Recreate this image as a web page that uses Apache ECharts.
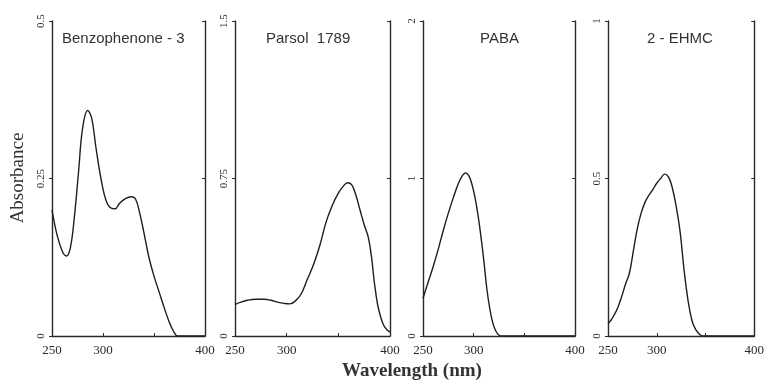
<!DOCTYPE html>
<html>
<head>
<meta charset="utf-8">
<script src="https://cdn.jsdelivr.net/npm/echarts@6/dist/echarts.min.js"></script>
<style>
  html, body { margin: 0; padding: 0; background: #fff; }
  #chart { width: 767px; height: 385px; }
</style>
</head>
<body>
<div id="chart"></div>
<script>
// panel names and y-axis maxima
const panelNames = ['Benzophenone - 3', 'Parsol  1789', 'PABA', '2 - EHMC']
const yMax = [0.5, 1.5, 2, 1]

// wavelengths (nm) and absorbance
const bp3Wl = [250, 255, 260, 264, 268, 272, 276, 280, 285, 289, 293, 298, 303, 308, 312, 316, 322, 328, 332, 336, 340, 345, 350, 355, 360, 365, 370, 373, 400]
const bp3Abs = [0.2, 0.16, 0.135, 0.127, 0.14, 0.19, 0.26, 0.33, 0.358, 0.345, 0.3, 0.25, 0.215, 0.203, 0.202, 0.21, 0.218, 0.221, 0.217, 0.195, 0.165, 0.125, 0.095, 0.07, 0.045, 0.022, 0.005, 0, 0]

const parsolWl = [250, 255, 262, 270, 278, 285, 292, 298, 303, 308, 314, 320, 326, 332, 338, 344, 350, 355, 359, 363, 367, 371, 375, 379, 382, 385, 388, 391, 394, 397, 400]
const parsolAbs = [0.15, 0.16, 0.17, 0.175, 0.175, 0.17, 0.16, 0.155, 0.153, 0.165, 0.2, 0.27, 0.34, 0.43, 0.54, 0.62, 0.68, 0.715, 0.73, 0.72, 0.67, 0.6, 0.53, 0.47, 0.38, 0.25, 0.15, 0.09, 0.05, 0.03, 0.02]

const pabaWl = [250, 253, 256, 260, 265, 270, 275, 280, 285, 289, 292, 295, 298, 301, 304, 307, 310, 313, 316, 319, 322, 325, 328, 400]
const pabaAbs = [0.24, 0.3, 0.36, 0.44, 0.55, 0.67, 0.78, 0.88, 0.97, 1.02, 1.035, 1.02, 0.97, 0.89, 0.78, 0.64, 0.48, 0.3, 0.17, 0.08, 0.03, 0.005, 0, 0]

const ehmcWl = [250, 253, 256, 260, 264, 268, 272, 276, 280, 284, 288, 292, 296, 300, 304, 308, 312, 316, 320, 324, 328, 332, 336, 340, 344, 347, 400]
const ehmcAbs = [0.04, 0.05, 0.065, 0.09, 0.125, 0.165, 0.2, 0.27, 0.34, 0.39, 0.425, 0.447, 0.465, 0.485, 0.5, 0.514, 0.505, 0.47, 0.41, 0.33, 0.21, 0.115, 0.05, 0.02, 0.005, 0, 0]

// x tick labels that are printed
const xTickLabels = [250, 300, 400]

const curves = [
  [bp3Wl, bp3Abs],
  [parsolWl, parsolAbs],
  [pabaWl, pabaAbs],
  [ehmcWl, ehmcAbs],
]

// panel boxes in px: left, width
const boxes = [[52, 153], [235, 155], [423, 152], [608, 152]]
const titleLeft = [62, 266, 480, 647]

const serif = 'Liberation Serif, Times New Roman, serif'
const sans = 'Liberation Sans, Arial, sans-serif'
const ink = '#2a2a2a'

const chart = echarts.init(document.getElementById('chart'))

const grids = boxes.map(([left, width]) => ({ left, width, top: 21, height: 315 }))

const xAxes = boxes.map((b, i) => ({
  type: 'value',
  gridIndex: i,
  min: 250,
  max: 400,
  interval: 50,
  splitLine: { show: false },
  axisLine: { lineStyle: { color: ink, width: 1.4 } },
  axisTick: { inside: true, length: 3, lineStyle: { color: ink } },
  axisLabel: {
    color: ink,
    fontFamily: serif,
    fontSize: 13,
    margin: 8,
    formatter: (v) => (xTickLabels.includes(v) ? String(v) : ''),
  },
}))

const yAxes = []
boxes.forEach((b, i) => {
  yAxes.push({
    type: 'value',
    gridIndex: i,
    min: 0,
    max: yMax[i],
    interval: yMax[i] / 2,
    position: 'left',
    splitLine: { show: false },
    axisLine: { show: true, lineStyle: { color: ink, width: 1.4 } },
    axisTick: { length: 3, lineStyle: { color: ink } },
    axisLabel: {
      color: ink,
      fontFamily: serif,
      fontSize: 11,
      rotate: 90,
      margin: 5,
    },
  })
  yAxes.push({
    type: 'value',
    gridIndex: i,
    min: 0,
    max: yMax[i],
    interval: yMax[i] / 2,
    position: 'right',
    splitLine: { show: false },
    axisLine: { show: true, lineStyle: { color: ink, width: 1.4 } },
    axisTick: { inside: true, length: 3, lineStyle: { color: ink } },
    axisLabel: { show: false },
  })
})

const series = curves.map(([wl, abs], i) => ({
  type: 'line',
  xAxisIndex: i,
  yAxisIndex: i * 2,
  data: wl.map((w, k) => [w, abs[k]]),
  smooth: 0.4,
  showSymbol: false,
  symbol: 'none',
  lineStyle: { color: '#1e1e1e', width: 1.4 },
  silent: true,
}))

const titles = panelNames.map((name, i) => ({
  text: name,
  left: titleLeft[i],
  top: 31,
  padding: 0,
  textStyle: { fontFamily: sans, fontSize: 15, fontWeight: 'normal', color: '#333' },
}))
titles.push({
  text: 'Wavelength (nm)',
  left: 342,
  top: 362,
  padding: 0,
  textStyle: { fontFamily: serif, fontSize: 19, fontWeight: 'bold', color: '#333' },
})

const option = {
  animation: false,
  backgroundColor: '#fff',
  title: titles,
  grid: grids,
  xAxis: xAxes,
  yAxis: yAxes,
  series,
  graphic: [
    {
      type: 'text',
      x: 18,
      y: 178,
      rotation: Math.PI / 2,
      style: {
        text: 'Absorbance',
        fontFamily: serif,
        fontSize: 19,
        fill: '#333',
        align: 'center',
        verticalAlign: 'middle',
      },
    },
  ],
}

chart.setOption(option)
</script>
</body>
</html>
